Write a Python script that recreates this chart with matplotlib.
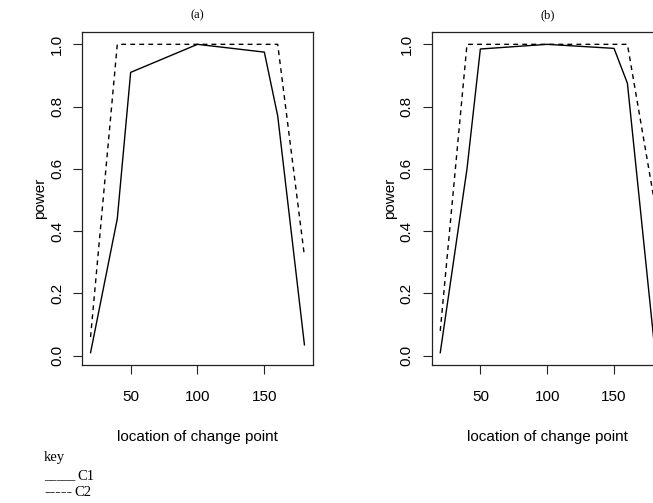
import matplotlib

matplotlib.use("Agg")
import matplotlib.pyplot as plt

# location of change point and power for the two settings
x_loc = [20, 40, 50, 100, 150, 160, 180]
a_c1 = [0.01, 0.44, 0.91, 1.0, 0.975, 0.77, 0.035]
a_c2 = [0.06, 1.0, 1.0, 1.0, 1.0, 1.0, 0.32]
b_c1 = [0.01, 0.60, 0.985, 1.0, 0.987, 0.875, 0.04]
b_c2 = [0.08, 1.0, 1.0, 1.0, 1.0, 1.0, 0.50]

panels = ["(a)", "(b)"]
y_ticks = [0.0, 0.2, 0.4, 0.6, 0.8, 1.0]
x_ticks = [50, 100, 150]

SANS = "Liberation Sans"
SERIF = "Liberation Serif"
W, H = 653, 503


def draw_panel(ax, c1, c2, title):
    ax.plot(x_loc, c1, color="black", linewidth=1.0)
    ax.plot(x_loc, c2, color="black", linewidth=1.0, linestyle=(0, (3.5, 3)))
    ax.margins(x=0.04, y=0.04)
    ax.set_xticks(x_ticks)
    ax.set_xticklabels([str(t) for t in x_ticks], fontfamily=SANS, fontsize=11)
    ax.set_yticks(y_ticks)
    ax.set_yticklabels([f"{t:.1f}" for t in y_ticks], fontfamily=SANS,
                       fontsize=11, rotation=90, va="center")
    ax.tick_params(direction="out", length=6.5, width=0.8, color="#222222")
    ax.tick_params(axis="x", pad=11.5)
    ax.tick_params(axis="y", pad=6.5)
    for sp in ax.spines.values():
        sp.set_linewidth(0.9)
        sp.set_color("#222222")
    ax.set_xlabel("location of change point", fontfamily=SANS, fontsize=11, labelpad=19)
    ax.set_ylabel("power", fontfamily=SANS, fontsize=11, labelpad=2)
    ax.set_title(title, fontfamily=SERIF, fontsize=9, pad=10)


fig = plt.figure(figsize=(W / 100, H / 100), dpi=100)
ax_w, ax_h = 231 / W, 333 / H
ax_a = fig.add_axes([82 / W, (H - 365) / H, ax_w, ax_h])
ax_b = fig.add_axes([431.7 / W, (H - 365) / H, ax_w, ax_h])

draw_panel(ax_a, a_c1, a_c2, panels[0])
draw_panel(ax_b, b_c1, b_c2, panels[1])

# hand-written key under the left panel
fig.text(44 / W, 1 - 458 / H, "key", fontfamily=SERIF, fontsize=10.5, va="center")
fig.text(44 / W, 1 - 476 / H, "_____", fontfamily=SERIF, fontsize=9, va="center")
fig.text(77 / W, 1 - 476 / H, "C1", fontfamily=SERIF, fontsize=10.5, va="center")
fig.text(44 / W, 1 - 492.5 / H, "-----", fontfamily=SERIF, fontsize=12, va="center")
fig.text(74 / W, 1 - 493 / H, "C2", fontfamily=SERIF, fontsize=10.5, va="center")

fig.savefig("out.png", dpi=100)
